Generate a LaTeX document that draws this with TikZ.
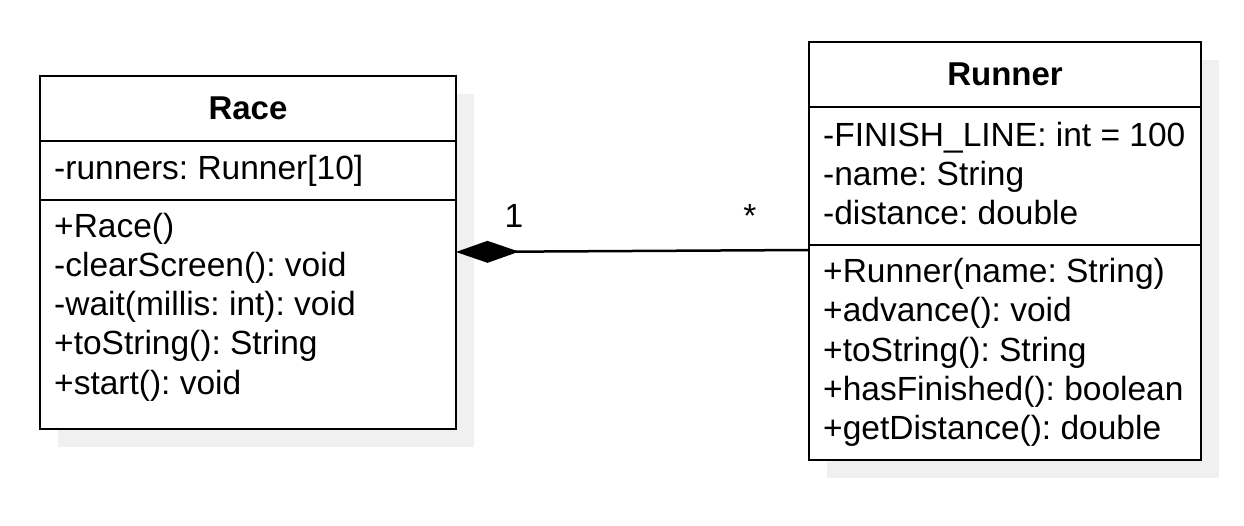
\documentclass[tikz,border=0pt]{standalone}
\usepackage{fontspec}
\setmainfont{Liberation Sans}
\usetikzlibrary{positioning,arrows.meta}
\frenchspacing
\tikzstyle{ClassBox}=[rectangle, draw=black, line width=2.5pt, fill=white, inner sep=0pt, outer sep=0pt]
\tikzstyle{ClassTitle}=[font=\fontsize{33}{39}\selectfont\bfseries]
\tikzstyle{Member}=[anchor=base west, inner sep=0pt, font=\fontsize{33.5}{39}\selectfont]
\tikzstyle{Shadow}=[rectangle, fill=black!6, inner sep=0pt, outer sep=0pt, anchor=north west]
\tikzstyle{Composicion}=[{Diamond[length=63pt 0, width=22pt 0]}-, line width=2.5pt]

\begin{document}
\begin{tikzpicture}[x=1pt, y=-1pt]
	\useasboundingbox[fill=white] (0,0) rectangle (1244,526);
	%Sombras
	\node[Shadow, minimum width=416pt, minimum height=353pt]	(race_shadow)		at (58,94)		{};
	\node[Shadow, minimum width=392pt, minimum height=418pt]	(runner_shadow)	at (827,60)		{};

	%Race
	\node[ClassBox, ClassTitle, anchor=north west, minimum width=416pt, minimum height=65pt]	(race)		at (40,76)	{Race};
	\node[ClassBox, minimum width=416pt, minimum height=59pt]		(race_attr)	[below=0pt of race]		{};
	\node[ClassBox, minimum width=416pt, minimum height=229pt]	(race_meth)	[below=0pt of race_attr]	{};

	%Runner
	\node[ClassBox, ClassTitle, anchor=north west, minimum width=392pt, minimum height=65pt]	(runner)		at (809,42)	{Runner};
	\node[ClassBox, minimum width=392pt, minimum height=138pt]	(runner_attr)	[below=0pt of runner]		{};
	\node[ClassBox, minimum width=392pt, minimum height=215pt]	(runner_meth)	[below=0pt of runner_attr]	{};

	%Miembros
	\node[Member] (race_a1) at ([shift={(14,39)}]race_attr.north west) {-runners: Runner[10]};
	\foreach \m [count=\i] in {+Race(), -clearScreen(): void, -wait(millis: int): void, +toString(): String, +start(): void}
		\node[Member] (race_m\i) at ([shift={(14,38+39*(\i-1))}]race_meth.north west) {\m};
	\foreach \m [count=\i] in {-FINISH\_LINE: int = 100, -name: String, -distance: double}
		\node[Member] (runner_a\i) at ([shift={(14,40+39*(\i-1))}]runner_attr.north west) {\m};
	\foreach \m [count=\i] in {+Runner(name: String), +advance(): void, +toString(): String, +hasFinished(): boolean, +getDistance(): double}
		\node[Member] (runner_m\i) at ([shift={(14,38+39*(\i-1))}]runner_meth.north west) {\m};

	%Lineas
	\coordinate (race_tip)		at ([yshift=-52pt]race_meth.north east);
	\coordinate (runner_tip)	at ([yshift=-5pt]runner_meth.north west);
	\draw[Composicion] (race_tip) -- (runner_tip);
	\node[Member, anchor=base]	(mult_race)	at ([shift={(58,-24)}]race_tip)		{1};
	\node[Member, anchor=base]	(mult_runner)	at ([shift={(-59,-22)}]runner_tip)	{*};
\end{tikzpicture}
\end{document}
